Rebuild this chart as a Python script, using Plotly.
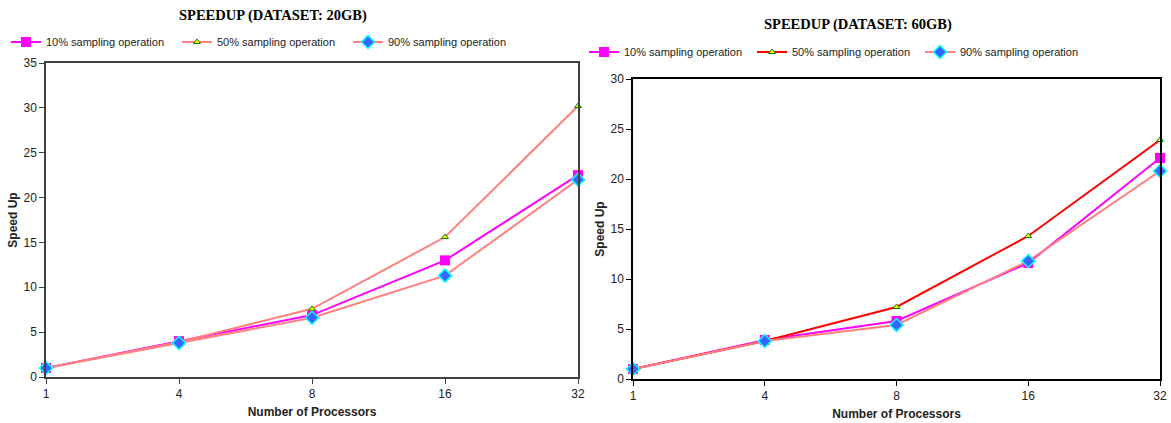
import plotly.graph_objects as go

processors = ["1", "4", "8", "16", "32"]

s10_20 = [1.0, 4.0, 6.9, 13.0, 22.5]
s50_20 = [1.0, 3.9, 7.6, 15.6, 30.2]
s90_20 = [1.0, 3.8, 6.6, 11.3, 22.0]

s10_60 = [1.0, 3.9, 5.8, 11.6, 22.1]
s50_60 = [1.0, 3.8, 7.2, 14.3, 23.9]
s90_60 = [1.0, 3.8, 5.4, 11.8, 20.8]

names = ["10% sampling operation", "50% sampling operation", "90% sampling operation"]
titles = ["SPEEDUP (DATASET: 20GB)", "SPEEDUP (DATASET: 60GB)"]

W, H = 1171, 423
fig = go.Figure()

def add_series(vals, name, xa, ya, legend, line_color, marker):
    fig.add_trace(go.Scatter(
        x=processors, y=vals, name=name, mode="lines+markers",
        xaxis=xa, yaxis=ya, legend=legend,
        line=dict(color=line_color, width=2),
        marker=marker, cliponaxis=False,
    ))

m10 = dict(symbol="square", size=10, color="#FF00FF", line=dict(width=0))
m50 = dict(symbol="triangle-up", size=6, color="#FFFF00", line=dict(color="#008000", width=1))
m90 = dict(symbol="diamond", size=10, color="#3366FF", line=dict(color="#00FFFF", width=1.5))

add_series(s10_20, names[0], "x", "y", "legend", "#FF00FF", m10)
add_series(s50_20, names[1], "x", "y", "legend", "#FF8080", m50)
add_series(s90_20, names[2], "x", "y", "legend", "#FF8080", m90)

add_series(s10_60, names[0], "x2", "y2", "legend2", "#FF00FF", m10)
add_series(s50_60, names[1], "x2", "y2", "legend2", "#FF0000", m50)
add_series(s90_60, names[2], "x2", "y2", "legend2", "#FF8080", m90)

axis_font = dict(family="Liberation Sans, Arial, sans-serif", size=12, color="#222")
title_font = dict(family="Liberation Sans, Arial, sans-serif", size=12, color="#222")

def xaxis(domain, anchor, lc):
    return dict(domain=domain, anchor=anchor, type="category", range=[0, 4],
                showline=True, linecolor=lc, linewidth=1.5, mirror=True,
                ticks="outside", ticklen=5, tickcolor=lc, showgrid=False, zeroline=False,
                tickfont=axis_font, automargin=False,
                title=dict(text="<b>Number of Processors</b>", font=title_font, standoff=7))

def yaxis(domain, anchor, rng, lc):
    return dict(domain=domain, anchor=anchor, range=rng, dtick=5,
                showline=True, linecolor=lc, linewidth=1.5, mirror=True,
                ticks="outside", ticklen=5, tickcolor=lc, showgrid=False, zeroline=False,
                tickfont=axis_font, automargin=False,
                title=dict(text="<b>Speed Up</b>", font=title_font, standoff=3))

legend_font = dict(family="Liberation Sans, Arial, sans-serif", size=11, color="#222")

fig.update_layout(
    width=W, height=H, margin=dict(l=0, r=0, t=0, b=0, autoexpand=False),
    paper_bgcolor="white", plot_bgcolor="white",
    xaxis=xaxis([46 / W, 578 / W], "y", "#404040"),
    yaxis=yaxis([1 - 377 / H, 1 - 63 / H], "x", [0, 35], "#404040"),
    xaxis2=xaxis([633 / W, 1160 / W], "y2", "#000"),
    yaxis2=yaxis([1 - 379 / H, 1 - 79 / H], "x2", [0, 30], "#000"),
    legend=dict(orientation="h", x=6 / W, y=1 - 42 / H, xanchor="left", yanchor="middle",
                font=legend_font, entrywidth=126, entrywidthmode="pixels", itemwidth=30,
                bgcolor="rgba(0,0,0,0)"),
    legend2=dict(orientation="h", x=584 / W, y=1 - 52 / H, xanchor="left", yanchor="middle",
                 font=legend_font, entrywidth=123, entrywidthmode="pixels", itemwidth=30,
                 bgcolor="rgba(0,0,0,0)"),
    showlegend=True,
)

for t, cx, cy in [(titles[0], 273, 15), (titles[1], 858, 25)]:
    fig.add_annotation(text="<b>" + t + "</b>", x=cx / W, y=1 - cy / H, xref="paper", yref="paper",
                       showarrow=False, xanchor="center", yanchor="middle",
                       font=dict(family="Liberation Serif, DejaVu Serif, serif", size=14.5, color="#000"))

fig.write_html("out.html")
